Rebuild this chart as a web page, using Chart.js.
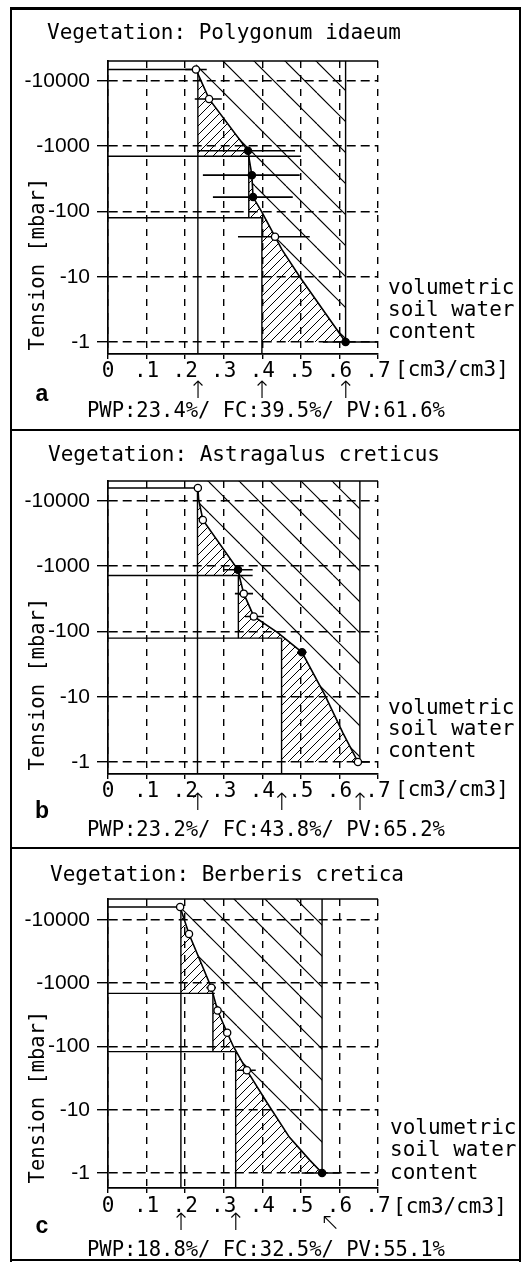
<!DOCTYPE html>
<html><head><meta charset="utf-8">
<script src="https://cdn.jsdelivr.net/npm/chart.js@4/dist/chart.umd.min.js"></script>
<style>
html,body{margin:0;padding:0;background:#fff;}
#page{position:relative;width:521px;height:1266px;overflow:hidden;background:#fff;}
#page canvas{position:absolute;left:0;}
.t{position:absolute;font-family:"DejaVu Sans Mono",monospace;color:#000;white-space:pre;}
.frame{position:absolute;background:#000;}
</style></head><body><div id="page"></div>
<script>
// ---------- shared axis data ----------
const xTicks = [0, 0.1, 0.2, 0.3, 0.4, 0.5, 0.6, 0.7];
const yTicks = [1, 10, 100, 1000, 10000];
const panelLetters = ['a', 'b', 'c'];
const vegetation = ['Polygonum idaeum', 'Astragalus creticus', 'Berberis cretica'];
const summaryText = ['PWP:23.4%/ FC:39.5%/ PV:61.6%', 'PWP:23.2%/ FC:43.8%/ PV:65.2%', 'PWP:18.8%/ FC:32.5%/ PV:55.1%'];
const sideLabel = ['volumetric', 'soil water', 'content'];
const unitLabel = '[cm3/cm3]';

// ---------- panel a: Polygonum idaeum ----------
const curveAX = [0.228, 0.262, 0.363, 0.365, 0.373, 0.376, 0.399, 0.433, 0.451, 0.497, 0.616];
const curveAY = [15000, 5300, 850, 690, 360, 166, 98, 41, 26, 10, 1];
const pointAX = [0.228, 0.262, 0.363, 0.373, 0.376, 0.433, 0.616];
const pointAY = [15000, 5300, 850, 360, 166, 41, 1];
const pointAFilled = [false, false, true, true, true, false, true];
const errALo = [0.200, 0.225, 0.231, 0.246, 0.272, 0.337, 0.557];
const errAHi = [0.256, 0.295, 0.485, 0.497, 0.479, 0.523, 0.700];
const levelsA = [15000, 700, 80];
const refEndA = [0.228, 0.500, 0.399];
const boundsA = [0.233, 0.365, 0.399, 0.616];   // PWP line, mid line, FC line, PV line
const yRangeA = [0.655, 20200];

// ---------- panel b: Astragalus creticus ----------
const curveBX = [0.233, 0.235, 0.246, 0.337, 0.340, 0.352, 0.378, 0.440, 0.503, 0.562, 0.609, 0.648];
const curveBY = [15800, 10500, 5100, 880, 720, 380, 170, 96, 48, 10.7, 2.8, 1];
const pointBX = [0.233, 0.246, 0.337, 0.352, 0.378, 0.503, 0.648];
const pointBY = [15800, 5100, 880, 380, 170, 48, 1];
const pointBFilled = [false, false, true, false, false, true, false];
const errBLo = [0.228, 0.236, 0.298, 0.329, 0.355, 0.490, 0.635];
const errBHi = [0.238, 0.256, 0.375, 0.376, 0.404, 0.515, 0.679];
const levelsB = [15800, 720, 79];
const refEndB = [0.233, 0.375, 0.450];
const boundsB = [0.232, 0.338, 0.450, 0.653];
const yRangeB = [0.655, 20200];

// ---------- panel c: Berberis cretica ----------
const curveCX = [0.187, 0.210, 0.268, 0.272, 0.284, 0.309, 0.325, 0.360, 0.412, 0.470, 0.523, 0.555];
const curveCY = [16000, 6000, 850, 690, 370, 165, 100, 42, 13, 3.7, 1.6, 1];
const pointCX = [0.187, 0.210, 0.268, 0.284, 0.309, 0.360, 0.555];
const pointCY = [16000, 6000, 850, 370, 165, 42, 1];
const pointCFilled = [false, false, false, false, false, false, true];
const errCLo = [0.183, 0.203, 0.255, 0.275, 0.298, 0.335, 0.502];
const errCHi = [0.191, 0.217, 0.280, 0.293, 0.318, 0.383, 0.601];
const levelsC = [16000, 690, 83];
const refEndC = [0.187, 0.277, 0.329];
const boundsC = [0.189, 0.272, 0.331, 0.555];
const yRangeC = [0.58, 21400];

const panels = [
  {cx: curveAX, cy: curveAY, px: pointAX, py: pointAY, filled: pointAFilled, lo: errALo, hi: errAHi,
   levels: levelsA, refEnd: refEndA, bounds: boundsA, yr: yRangeA,
   top: 0, aTop: 61, aBot: 354, xPad: 0, phase: 7, titleY: 33, titleX: 47,
   sideX: 388, sideY: [288, 310, 332], unitX: 395, unitY: 370, letY: 393, arrY: 391, sumY: 410, yLabY: 264},
  {cx: curveBX, cy: curveBY, px: pointBX, py: pointBY, filled: pointBFilled, lo: errBLo, hi: errBHi,
   levels: levelsB, refEnd: refEndB, bounds: boundsB, yr: yRangeB,
   top: 420, aTop: 61, aBot: 354, xPad: 0, phase: 23, titleY: 35, titleX: 48,
   sideX: 388, sideY: [288, 309, 331], unitX: 395, unitY: 370, letY: 390, arrY: 383, sumY: 409, yLabY: 264},
  {cx: curveCX, cy: curveCY, px: pointCX, py: pointCY, filled: pointCFilled, lo: errCLo, hi: errCHi,
   levels: levelsC, refEnd: refEndC, bounds: boundsC, yr: yRangeC,
   top: 840, aTop: 59, aBot: 348, xPad: 1, phase: 20, titleY: 35, titleX: 50,
   sideX: 390, sideY: [288, 310, 333], unitX: 393, unitY: 367, letY: 385, arrY: 383, sumY: 409, yLabY: 257}
];

const page = document.getElementById('page');
const CW = 521, CH = 421;

function frame(l, t, w, h) {
  const d = document.createElement('div'); d.className = 'frame';
  d.style.left = l + 'px'; d.style.top = t + 'px'; d.style.width = w + 'px'; d.style.height = h + 'px';
  page.appendChild(d);
}
function addText(str, left, cy, size, opts) {
  opts = opts || {};
  const d = document.createElement('div'); d.className = 't'; d.textContent = str;
  d.style.fontSize = size + 'px'; d.style.lineHeight = Math.round(size * 1.3) + 'px';
  d.style.left = left + 'px'; d.style.top = (cy - size * 0.65) + 'px';
  if (opts.family) d.style.fontFamily = opts.family;
  if (opts.bold) d.style.fontWeight = 'bold';
  if (opts.weight) d.style.fontWeight = opts.weight;
  if (opts.center) d.style.transform = 'translateX(-50%)';
  if (opts.rotate) { d.style.top = cy + 'px'; d.style.transform = 'translate(-50%,-50%) rotate(-90deg)'; }
  page.appendChild(d); return d;
}

function hatch(ctx, step, dir, width, phase) {
  const c = document.createElement('canvas'); c.width = step; c.height = step;
  const g = c.getContext('2d');
  g.strokeStyle = '#000'; g.lineWidth = width; g.lineCap = 'butt';
  g.beginPath();
  for (let k = -2; k <= 2; k++) {
    const o = k * step + phase;
    if (dir === '/') { g.moveTo(o, step); g.lineTo(o + step, 0); }
    else { g.moveTo(o, 0); g.lineTo(o + step, step); }
  }
  g.stroke();
  return ctx.createPattern(c, 'repeat');
}

function xAt(cx, cy, yv) {
  const L = Math.log10(yv);
  for (let i = 0; i < cx.length - 1; i++) {
    const la = Math.log10(cy[i]), lb = Math.log10(cy[i + 1]);
    if ((la - L) * (lb - L) <= 0 && la !== lb) {
      const t = (la - L) / (la - lb);
      return cx[i] + t * (cx[i + 1] - cx[i]);
    }
  }
  return cx[cx.length - 1];
}
function region(cx, cy, yTop, yBot, leftX) {
  const pts = [{x: xAt(cx, cy, yTop), y: yTop}];
  for (let i = 0; i < cx.length; i++) if (cy[i] < yTop && cy[i] > yBot) pts.push({x: cx[i], y: cy[i]});
  pts.push({x: xAt(cx, cy, yBot), y: yBot});
  pts.push({x: leftX, y: yBot});
  pts.push({x: leftX, y: yTop});
  return pts;
}
function lineDs(data, w) {
  return {data, showLine: true, borderColor: '#000', borderWidth: w, pointRadius: 0, pointHoverRadius: 0,
          fill: false, spanGaps: false, clip: 4};
}
function fillDs(data, pattern) {
  return {data, showLine: true, borderColor: 'rgba(0,0,0,0)', borderWidth: 0, pointRadius: 0, pointHoverRadius: 0,
          fill: 'shape', backgroundColor: pattern, spanGaps: false};
}

// outer frame
frame(10, 7, 511, 3);
frame(10, 7, 2, 1255);
frame(519, 7, 2, 1255);
frame(10, 1259, 511, 2);
frame(10, 429, 511, 2);
frame(10, 847, 511, 2);

panels.forEach((p, pi) => {
  const canvas = document.createElement('canvas');
  canvas.width = CW; canvas.height = CH;
  canvas.style.top = p.top + 'px'; canvas.style.width = CW + 'px'; canvas.style.height = CH + 'px';
  page.appendChild(canvas);
  const ctx = canvas.getContext('2d');
  const [yMin, yMax] = p.yr;
  const last = p.cx.length - 1;
  const nPat = hatch(ctx, 9, '/', 1, 0);
  const wPat = hatch(ctx, 31, '\\', 1.2, p.phase);

  const ds = [];
  // measured points
  ds.push({data: p.px.map((x, i) => ({x, y: p.py[i]})), showLine: false, pointRadius: 3.6, pointHoverRadius: 3.6,
           pointBorderWidth: 1.3, pointBorderColor: '#000', pointBackgroundColor: p.filled.map(f => f ? '#000' : '#fff'), clip: 6});
  // horizontal error bars
  const eb = [];
  p.lo.forEach((lo, i) => { eb.push({x: lo, y: p.py[i]}, {x: p.hi[i], y: p.py[i]}, {x: null, y: null}); });
  ds.push(lineDs(eb, 1.6));
  // retention curve
  ds.push(lineDs(p.cx.map((x, i) => ({x, y: p.cy[i]})), 1.6));
  // reference tension lines
  const rl = [];
  p.levels.forEach((lv, i) => { rl.push({x: 0, y: lv}, {x: p.refEnd[i], y: lv}, {x: null, y: null}); });
  ds.push(lineDs(rl, 1.4));
  // vertical boundary lines (PWP, mid, FC, PV)
  const vl = [
    {x: p.bounds[0], y: p.levels[0]}, {x: p.bounds[0], y: yMin}, {x: null, y: null},
    {x: p.bounds[1], y: p.levels[1]}, {x: p.bounds[1], y: p.levels[2]}, {x: null, y: null},
    {x: p.bounds[2], y: p.levels[2]}, {x: p.bounds[2], y: yMin}, {x: null, y: null},
    {x: p.bounds[3], y: yMax}, {x: p.bounds[3], y: p.cy[last]}
  ];
  ds.push(lineDs(vl, 1.4));
  // top frame of plot
  ds.push(lineDs([{x: 0, y: yMax}, {x: 0.7, y: yMax}], 1.6));
  // hatched areas
  ds.push(fillDs(region(p.cx, p.cy, p.levels[0], p.levels[1], p.bounds[0]), nPat));
  ds.push(fillDs(region(p.cx, p.cy, p.levels[1], p.levels[2], p.bounds[1]), nPat));
  ds.push(fillDs(region(p.cx, p.cy, p.levels[2], p.cy[last], p.bounds[2]), nPat));
  const wide = [{x: p.cx[0], y: yMax}];
  p.cx.forEach((x, i) => wide.push({x, y: p.cy[i]}));
  wide.push({x: p.bounds[3], y: p.cy[last]}, {x: p.bounds[3], y: yMax});
  ds.push(fillDs(wide, wPat));

  const chart = new Chart(ctx, {
    type: 'scatter',
    data: {datasets: ds},
    options: {
      responsive: false, animation: false, devicePixelRatio: 1, events: [],
      layout: {padding: {left: 0, right: CW - 378, top: p.aTop, bottom: 0}},
      plugins: {legend: {display: false}, tooltip: {enabled: false}, title: {display: false}},
      scales: {
        x: {
          type: 'linear', min: 0, max: 0.7,
          afterBuildTicks: s => { s.ticks = xTicks.map(v => ({value: v})); },
          afterFit: s => { s.height = CH - p.aBot; },
          ticks: {callback: v => v === 0 ? '0' : '.' + Math.round(v * 10), color: '#000', padding: p.xPad,
                  maxRotation: 0, autoSkip: false, font: {family: 'DejaVu Sans Mono', size: 21}},
          grid: {color: '#000', lineWidth: 1.4, tickLength: 5},
          border: {display: true, color: '#000', width: 1.7, dash: [7, 7]}
        },
        y: {
          type: 'logarithmic', min: yMin, max: yMax,
          afterBuildTicks: s => { s.ticks = yTicks.map(v => ({value: v})); },
          afterFit: s => { s.width = 108; },
          ticks: {callback: v => '-' + v, color: '#000', padding: 7, autoSkip: false,
                  font: {family: 'Liberation Sans', size: 21}},
          grid: {color: '#000', lineWidth: 1.4, tickLength: 11},
          border: {display: true, color: '#000', width: 1.7, dash: [9, 5]}
        }
      }
    }
  });

  const T = p.top;
  addText('Vegetation: ' + vegetation[pi], p.titleX, T + p.titleY, 21);
  sideLabel.forEach((s, i) => addText(s, p.sideX, T + p.sideY[i], 21));
  addText(unitLabel, p.unitX, T + p.unitY, 21);
  addText(panelLetters[pi], 42, T + p.letY, 23, {family: 'Liberation Sans', bold: true, center: true});
  addText('Tension [mbar]', 37, T + p.yLabY, 20.5, {rotate: true});
  const xs = chart.scales.x;
  const arrowFont = 'DejaVu Sans';
  [p.bounds[0], p.bounds[2]].forEach(v => addText('\u2191', xs.getPixelForValue(v), T + p.arrY, 24, {center: true, family: arrowFont, weight: 300}));
  if (pi === 2) addText('\u2196', xs.getPixelForValue(p.bounds[3]) + 8, T + p.arrY, 24, {center: true, family: arrowFont, weight: 300});
  else addText('\u2191', xs.getPixelForValue(p.bounds[3]), T + p.arrY, 24, {center: true, family: arrowFont, weight: 300});
  addText(summaryText[pi], 87, T + p.sumY, 20.5);
});
</script></body></html>
